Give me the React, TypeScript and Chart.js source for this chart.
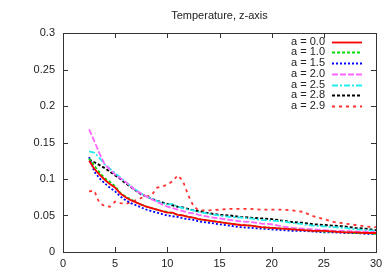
import React, { useEffect, useRef } from "react";
import { Chart, registerables } from "chart.js";

Chart.register(...registerables);

const TITLE = "Temperature, z-axis";
const X = [2.5, 3, 3.5, 4, 4.5, 5, 5.5, 6, 6.5, 7, 7.5, 8, 8.5, 9, 9.5, 10, 10.5, 11, 11.5, 12, 12.5, 13, 14, 15, 16, 17, 18, 19, 20, 21, 22, 23, 24, 25, 26, 27, 28, 29, 30];

const A00 = [0.125, 0.114, 0.106, 0.099, 0.093, 0.088, 0.080, 0.075, 0.071, 0.068, 0.065, 0.062, 0.060, 0.058, 0.056, 0.054, 0.054, 0.051, 0.050, 0.048, 0.047, 0.045, 0.043, 0.041, 0.039, 0.037, 0.036, 0.034, 0.033, 0.032, 0.031, 0.030, 0.029, 0.029, 0.028, 0.027, 0.027, 0.026, 0.026];
const A10 = [0.128, 0.118, 0.109, 0.101, 0.096, 0.090, 0.081, 0.076, 0.072, 0.068, 0.065, 0.062, 0.060, 0.058, 0.056, 0.055, 0.053, 0.051, 0.050, 0.048, 0.047, 0.045, 0.043, 0.041, 0.039, 0.037, 0.036, 0.034, 0.033, 0.032, 0.031, 0.030, 0.029, 0.028, 0.028, 0.027, 0.026, 0.026, 0.025];
const A15 = [0.130, 0.110, 0.101, 0.094, 0.088, 0.083, 0.076, 0.071, 0.067, 0.064, 0.061, 0.058, 0.056, 0.054, 0.052, 0.050, 0.049, 0.048, 0.046, 0.045, 0.044, 0.042, 0.040, 0.038, 0.036, 0.034, 0.033, 0.032, 0.031, 0.030, 0.029, 0.029, 0.028, 0.027, 0.027, 0.026, 0.026, 0.025, 0.025];
const A20 = [0.168, 0.152, 0.135, 0.120, 0.113, 0.106, 0.101, 0.096, 0.090, 0.084, 0.080, 0.076, 0.072, 0.069, 0.065, 0.062, 0.060, 0.058, 0.056, 0.054, 0.053, 0.051, 0.048, 0.046, 0.044, 0.042, 0.041, 0.039, 0.038, 0.035, 0.033, 0.032, 0.031, 0.030, 0.029, 0.029, 0.028, 0.028, 0.027];
const A25 = [0.138, 0.136, 0.129, 0.120, 0.114, 0.108, 0.102, 0.096, 0.090, 0.085, 0.080, 0.076, 0.073, 0.070, 0.067, 0.065, 0.066, 0.062, 0.060, 0.058, 0.057, 0.055, 0.052, 0.050, 0.048, 0.047, 0.046, 0.044, 0.043, 0.042, 0.040, 0.038, 0.036, 0.035, 0.034, 0.033, 0.031, 0.030, 0.029];
const A28 = [0.127, 0.123, 0.119, 0.115, 0.110, 0.105, 0.100, 0.094, 0.089, 0.084, 0.079, 0.076, 0.073, 0.070, 0.068, 0.066, 0.064, 0.062, 0.061, 0.059, 0.057, 0.056, 0.053, 0.051, 0.050, 0.048, 0.047, 0.046, 0.045, 0.043, 0.041, 0.040, 0.038, 0.037, 0.036, 0.035, 0.033, 0.032, 0.030];
const A29 = [0.083, 0.084, 0.067, 0.063, 0.062, 0.069, 0.067, 0.066, 0.068, 0.071, 0.074, 0.076, 0.078, 0.088, 0.090, 0.092, 0.097, 0.105, 0.097, 0.078, 0.063, 0.057, 0.057, 0.058, 0.059, 0.059, 0.059, 0.058, 0.058, 0.058, 0.057, 0.055, 0.049, 0.045, 0.041, 0.039, 0.037, 0.035, 0.034];

const LABELS = ["a = 0.0", "a = 1.0", "a = 1.5", "a = 2.0", "a = 2.5", "a = 2.8", "a = 2.9"];
const SERIES = [A00, A10, A15, A20, A25, A28, A29];
const COLORS = ["#ff0000", "#00e000", "#0000ff", "#ff66ff", "#22eeee", "#000000", "#ff3030"];
const DASHES = [[], [3, 2], [2, 2], [6, 2], [6, 2, 2, 2], [3, 2], [3, 4]];
const WIDTHS = [1.8, 1.8, 1.8, 1.8, 1.8, 1.9, 1.8];
const X_TICKS = [0, 5, 10, 15, 20, 25, 30];
const Y_TICKS = [0, 0.05, 0.1, 0.15, 0.2, 0.25, 0.3];

const FONT = "'Liberation Sans', Arial, sans-serif";

const framePlugin = {
  id: "frame",
  afterDraw(chart: any) {
    const { ctx, chartArea: a, scales } = chart;
    ctx.save();
    ctx.strokeStyle = "#333";
    ctx.lineWidth = 1;
    ctx.setLineDash([]);
    ctx.strokeRect(Math.round(a.left) + 0.5, Math.round(a.top) + 0.5, Math.round(a.right - a.left), Math.round(a.bottom - a.top));
    const L = 5;
    ctx.beginPath();
    for (const v of X_TICKS) {
      const px = Math.round(scales.x.getPixelForValue(v)) + 0.5;
      ctx.moveTo(px, a.bottom); ctx.lineTo(px, a.bottom - L);
      ctx.moveTo(px, a.top); ctx.lineTo(px, a.top + L);
    }
    for (const v of Y_TICKS) {
      const py = Math.round(scales.y.getPixelForValue(v)) + 0.5;
      ctx.moveTo(a.left, py); ctx.lineTo(a.left + L, py);
      ctx.moveTo(a.right, py); ctx.lineTo(a.right - L, py);
    }
    ctx.stroke();
    // title
    ctx.fillStyle = "#222";
    ctx.font = "11px " + FONT;
    ctx.textAlign = "center";
    ctx.textBaseline = "middle";
    ctx.fillText(TITLE, (a.left + a.right) / 2, 16);
    // legend
    chart.data.datasets.forEach((ds: any, i: number) => {
      const y = 41.7 + i * 10.7;
      ctx.fillStyle = "#222";
      ctx.textAlign = "right";
      ctx.fillText(ds.label, 325, y);
      ctx.beginPath();
      ctx.strokeStyle = ds.borderColor;
      ctx.lineWidth = ds.borderWidth;
      ctx.setLineDash(ds.borderDash);
      ctx.moveTo(332, Math.round(y) + 0.5);
      ctx.lineTo(362, Math.round(y) + 0.5);
      ctx.stroke();
    });
    ctx.restore();
  },
};

export default function App() {
  const ref = useRef<HTMLCanvasElement>(null);
  useEffect(() => {
    const chart = new Chart(ref.current!, {
      type: "line",
      data: {
        datasets: SERIES.map((s, i) => ({
          label: LABELS[i],
          data: s.map((y, j) => ({ x: X[j], y })),
          borderColor: COLORS[i],
          borderDash: DASHES[i],
          borderWidth: WIDTHS[i],
          pointRadius: 0,
          fill: false,
          tension: 0,
        })),
      },
      options: {
        responsive: false,
        animation: false,
        layout: { padding: { top: 33, right: 15, left: 0, bottom: 0 } },
        plugins: { legend: { display: false }, title: { display: false }, tooltip: { enabled: false } },
        scales: {
          x: {
            type: "linear",
            min: 0,
            max: 30,
            afterFit: (s: any) => { s.height = 22; },
            afterBuildTicks: (s: any) => { s.ticks = X_TICKS.map((v) => ({ value: v })); },
            grid: { display: false, drawTicks: false },
            border: { display: false },
            ticks: { padding: 5, color: "#222", font: { family: FONT, size: 11 }, maxRotation: 0 },
          },
          y: {
            type: "linear",
            min: 0,
            max: 0.3,
            afterFit: (s: any) => { s.width = 63; },
            afterBuildTicks: (s: any) => { s.ticks = Y_TICKS.map((v) => ({ value: v })); },
            grid: { display: false, drawTicks: false },
            border: { display: false },
            ticks: {
              padding: 8,
              color: "#222",
              font: { family: FONT, size: 11 },
              callback: (v: any) => String(Number(Number(v).toFixed(2))),
            },
          },
        },
      },
      plugins: [framePlugin],
    });
    return () => chart.destroy();
  }, []);
  return (
    <div style={{ position: "absolute", left: 0, top: 0, width: 391, height: 274, background: "#fff" }}>
      <canvas ref={ref} width={391} height={274} />
    </div>
  );
}
